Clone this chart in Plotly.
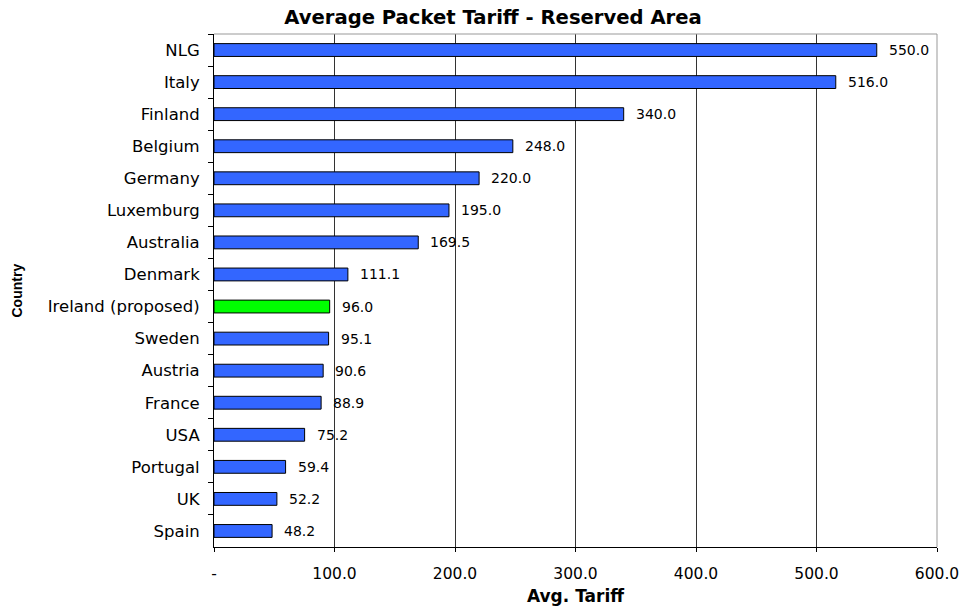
import plotly.graph_objects as go

countries = ["NLG", "Italy", "Finland", "Belgium", "Germany", "Luxemburg", "Australia",
             "Denmark", "Ireland (proposed)", "Sweden", "Austria", "France", "USA",
             "Portugal", "UK", "Spain"]
tariffs = [550.0, 516.0, 340.0, 248.0, 220.0, 195.0, 169.5, 111.1, 96.0, 95.1, 90.6,
           88.9, 75.2, 59.4, 52.2, 48.2]
highlight = "Ireland (proposed)"
x_tickvals = [0, 100, 200, 300, 400, 500, 600]
x_ticktext = ["-", "100.0", "200.0", "300.0", "400.0", "500.0", "600.0"]

colors = ["#00FF00" if c == highlight else "#3366FF" for c in countries]

font = "DejaVu Sans, Arial, sans-serif"
narrow = "Liberation Sans Narrow, Liberation Sans, Arial, sans-serif"

fig = go.Figure()
fig.add_trace(go.Bar(
    y=countries, x=tariffs, orientation="h",
    marker=dict(color=colors, line=dict(color="black", width=1)),
    width=0.4, hoverinfo="x+y",
))

annotations = []
for c, v in zip(countries, tariffs):
    annotations.append(dict(x=v, y=c, xref="x", yref="y", text=f"{v:.1f}",
                            showarrow=False, xanchor="left", xshift=10,
                            font=dict(family=font, size=14, color="black")))
annotations.append(dict(x=-198/723, y=0.5, xref="paper", yref="paper",
                        text="<b>Country</b>", textangle=-90, showarrow=False,
                        xanchor="center", yanchor="middle",
                        font=dict(family=narrow, size=14, color="black")))

fig.update_layout(
    width=963, height=606,
    margin=dict(l=214, r=26, t=34, b=59),
    paper_bgcolor="white", plot_bgcolor="white",
    title=dict(text="<b>Average Packet Tariff - Reserved Area</b>",
               x=493/963, xanchor="center", y=1 - 17/606, yanchor="middle",
               font=dict(family=font, size=19.6, color="black")),
    showlegend=False,
    bargap=0.6,
    annotations=annotations,
    shapes=[
        dict(type="line", xref="paper", yref="paper", x0=0, x1=1, y0=1, y1=1,
             line=dict(color="#999999", width=1)),
        dict(type="line", xref="paper", yref="paper", x0=1, x1=1, y0=0, y1=1,
             line=dict(color="#999999", width=1)),
    ],
)
fig.update_xaxes(
    range=[0, 600], tickvals=x_tickvals, ticktext=x_ticktext,
    showgrid=True, gridcolor="#333333", gridwidth=1,
    showline=True, linecolor="black", linewidth=1,
    ticks="outside", ticklen=4, tickcolor="black",
    tickfont=dict(family=font, size=15.5, color="black"),
    ticklabelstandoff=8,
    title=dict(text="<b>Avg. Tariff</b>", font=dict(family=font, size=17, color="black"),
               standoff=12),
    zeroline=False, fixedrange=True, automargin=False,
)
fig.update_yaxes(
    autorange="reversed", categoryorder="array", categoryarray=countries,
    showline=True, linecolor="black", linewidth=1,
    ticks="outside", ticklen=5, tickcolor="black", tickson="boundaries",
    tickfont=dict(family=font, size=16.5, color="black"),
    showgrid=False, fixedrange=True, ticklabelstandoff=10, automargin=False,
)

fig.write_html("out.html")
